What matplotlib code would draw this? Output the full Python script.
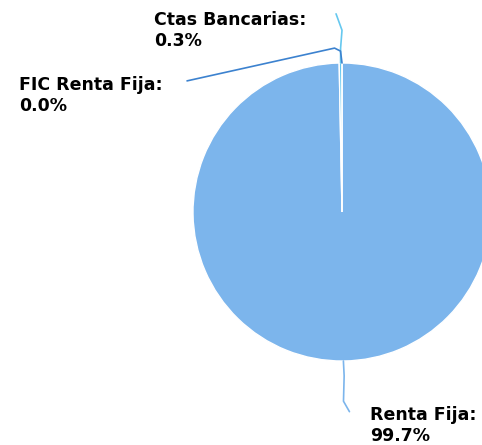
import numpy as np
import matplotlib
matplotlib.use("Agg")
import matplotlib.pyplot as plt

categorias = ["Renta Fija", "Ctas Bancarias", "FIC Renta Fija"]
porcentajes = [99.7, 0.3, 0.0]
colores = ["#7cb5ec", "#66c8ef", "#3c82cf"]

W, H = 482, 445
fig = plt.figure(figsize=(W / 100, H / 100), dpi=100)
# centro de la torta en (342, 212) px, radio 149 px
cx, cy, r = 342, 212, 149
ax = fig.add_axes([(cx - r) / W, (H - cy - r) / H, 2 * r / W, 2 * r / H])

wedges, _ = ax.pie(porcentajes, colors=colores, startangle=90, counterclock=False,
                   radius=1, wedgeprops=dict(edgecolor="white", linewidth=1))
for w in wedges:
    w.set_clip_on(False)
ax.set_xlim(-1, 1)
ax.set_ylim(-1, 1)
ax.set_aspect("equal")
ax.axis("off")

# posicion de las etiquetas (en unidades del radio)
pos_texto = {
    "Renta Fija": (0.19, -1.305),
    "Ctas Bancarias": (-1.26, 1.35),
    "FIC Renta Fija": (-2.17, 0.91),
}
pos_codo = {
    "Renta Fija": (0.05, -1.34),
    "Ctas Bancarias": (-0.04, 1.33),
    "FIC Renta Fija": (-1.04, 0.88),
}

for w, nombre, val, col in zip(wedges, categorias, porcentajes, colores):
    ang = np.deg2rad((w.theta1 + w.theta2) / 2)
    px, py = np.cos(ang), np.sin(ang)
    tx, ty = pos_texto[nombre]
    ex, ey = pos_codo[nombre]
    if nombre == "FIC Renta Fija":
        xs = [ex, -0.05, px - 0.01, px]
        ys = [ey, 1.10, 1.08, 1.00]
    elif nombre == "Ctas Bancarias":
        xs = [ex, 0.0, px, px]
        ys = [ey, 1.22, 1.10, 1.00]
    else:
        xs = [ex, 0.01, px + 0.005, px]
        ys = [ey, -1.27, -1.1, -1.0]
    ax.plot(xs, ys, color=col, lw=1.2, clip_on=False, solid_capstyle="round")
    ax.text(tx, ty, f"{nombre}:\n{val:.1f}%", ha="left", va="top",
            fontsize=12.5, fontweight="bold", color="black", linespacing=1.2,
            clip_on=False)

fig.savefig("out.png", dpi=100)
